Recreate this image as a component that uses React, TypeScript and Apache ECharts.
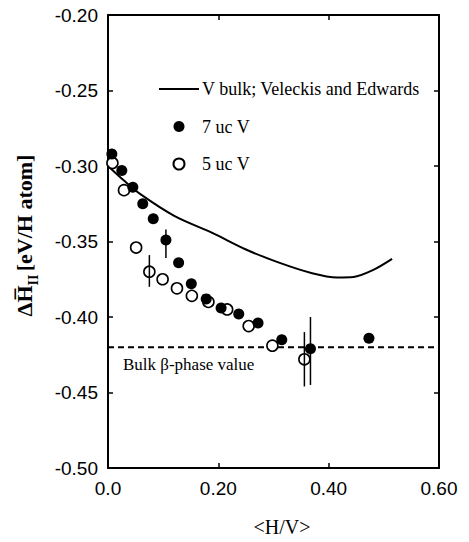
import React, { useEffect, useRef } from "react";
import * as echarts from "echarts";

// 7 uc V (filled circles)
const filled7X = [0.007, 0.025, 0.045, 0.063, 0.082, 0.105, 0.128, 0.151, 0.178, 0.205, 0.237, 0.272, 0.315, 0.367, 0.473];
const filled7Y = [-0.292, -0.303, -0.314, -0.325, -0.335, -0.349, -0.364, -0.378, -0.388, -0.394, -0.398, -0.404, -0.415, -0.421, -0.414];

// 5 uc V (open circles)
const open5X = [0.008, 0.029, 0.051, 0.075, 0.099, 0.125, 0.152, 0.182, 0.216, 0.255, 0.298, 0.356];
const open5Y = [-0.298, -0.316, -0.354, -0.370, -0.375, -0.381, -0.386, -0.390, -0.395, -0.406, -0.419, -0.428];

// V bulk; Veleckis and Edwards (solid curve)
const curveX = [0, 0.03, 0.06, 0.12, 0.19, 0.25, 0.31, 0.37, 0.415, 0.445, 0.48, 0.515];
const curveY = [-0.3, -0.31, -0.319, -0.333, -0.3445, -0.3553, -0.364, -0.371, -0.3738, -0.3735, -0.369, -0.3615];

// Error bars [x, low, high]
const errX = [0.075, 0.105, 0.356, 0.367];
const errLow = [-0.38, -0.361, -0.446, -0.445];
const errHigh = [-0.359, -0.342, -0.41, -0.4];

// Bulk beta-phase reference value
const bulkBetaValue = -0.42;
const bulkLineX = [0, 0.6];

const serif = "'Liberation Serif', 'DejaVu Serif', serif";
const sans = "'Liberation Sans', Arial, sans-serif";

export default function App() {
  const ref = useRef<HTMLDivElement>(null);

  useEffect(() => {
    if (!ref.current) return;
    const chart = echarts.init(ref.current, null, { renderer: "svg" });

    const axisLine = { show: true, onZero: false, lineStyle: { color: "#000", width: 2 } };
    const tick = { show: true, inside: true, length: 5, lineStyle: { color: "#000", width: 1.5 } };

    const option: any = {
      animation: false,
      backgroundColor: "#fff",
      grid: { left: 108, right: 30, top: 15, bottom: 74, containLabel: false },
      legend: {
        orient: "vertical",
        left: 158,
        top: 80,
        padding: 0,
        itemWidth: 40,
        itemHeight: 11,
        itemGap: 19.5,
        data: [
          { name: "V bulk; Veleckis and Edwards", itemStyle: { color: "rgba(0,0,0,0)", borderWidth: 0, opacity: 0 } },
          "7 uc V",
          "5 uc V",
        ],
        textStyle: { fontFamily: serif, fontSize: 18, color: "#000", padding: [0, 0, 0, -2] },
      },
      xAxis: [
        {
          type: "value",
          min: 0,
          max: 0.6,
          interval: 0.2,
          position: "bottom",
          axisLine,
          axisTick: tick,
          splitLine: { show: false },
          axisLabel: {
            margin: 11,
            fontFamily: sans,
            fontSize: 19,
            color: "#000",
            formatter: (v: number) => (Math.abs(v) < 1e-9 ? "0.0" : v.toFixed(2)),
          },
          name: "<H/V>",
          nameLocation: "middle",
          nameGap: 49,
          nameTextStyle: { fontFamily: serif, fontSize: 20, color: "#000", padding: [0, 0, 0, 17] },
        },
        {
          type: "value",
          min: 0,
          max: 0.6,
          interval: 0.2,
          position: "top",
          axisLine,
          axisTick: tick,
          axisLabel: { show: false },
          splitLine: { show: false },
        },
      ],
      yAxis: [
        {
          type: "value",
          min: -0.5,
          max: -0.2,
          interval: 0.05,
          position: "left",
          axisLine,
          axisTick: tick,
          splitLine: { show: false },
          axisLabel: {
            margin: 10,
            fontFamily: sans,
            fontSize: 19,
            color: "#000",
            formatter: (v: number) => v.toFixed(2),
          },
          name: "{b|Δ}{b|H\u0305}{s|II} {b|[eV/H atom]}",
          nameLocation: "middle",
          nameRotate: 90,
          nameGap: 68,
          nameTextStyle: {
            padding: [0, 0, 0, 12],
            rich: {
              b: { fontFamily: serif, fontSize: 22, fontWeight: "bold", color: "#000", lineHeight: 32, verticalAlign: "middle" },
              s: { fontFamily: serif, fontSize: 14, fontWeight: "bold", color: "#000", lineHeight: 32, verticalAlign: "bottom" },
            },
          },
        },
        {
          type: "value",
          min: -0.5,
          max: -0.2,
          interval: 0.05,
          position: "right",
          axisLine,
          axisTick: tick,
          axisLabel: { show: false },
          splitLine: { show: false },
        },
      ],
      series: [
        {
          name: "Bulk beta",
          type: "line",
          data: bulkLineX.map((x) => [x, bulkBetaValue]),
          symbol: "none",
          lineStyle: { color: "#000", width: 2, type: [6, 4] },
          silent: true,
          z: 1,
        },
        {
          name: "V bulk; Veleckis and Edwards",
          type: "line",
          data: curveX.map((x, i) => [x, curveY[i]]),
          symbol: "none",
          smooth: 0.3,
          lineStyle: { color: "#000", width: 2 },
          itemStyle: { color: "#000" },
          z: 2,
        },
        {
          name: "7 uc V",
          type: "scatter",
          data: filled7X.map((x, i) => [x, filled7Y[i]]),
          symbol: "circle",
          symbolSize: 11,
          itemStyle: { color: "#000", opacity: 1 },
          z: 4,
        },
        {
          name: "5 uc V",
          type: "scatter",
          data: open5X.map((x, i) => [x, open5Y[i]]),
          symbol: "circle",
          symbolSize: 11,
          itemStyle: { color: "#fff", borderColor: "#000", borderWidth: 1.6, opacity: 1 },
          z: 3,
        },
        {
          name: "errors",
          type: "custom",
          data: errX.map((x, i) => [x, errLow[i], errHigh[i]]),
          renderItem: (params: any, api: any) => {
            const p1 = api.coord([api.value(0), api.value(1)]);
            const p2 = api.coord([api.value(0), api.value(2)]);
            return {
              type: "line",
              shape: { x1: p1[0], y1: p1[1], x2: p2[0], y2: p2[1] },
              style: { stroke: "#000", lineWidth: 1.5 },
            };
          },
          z: 5,
        },
      ],
      graphic: [
        {
          type: "text",
          left: 123,
          top: 356,
          style: { text: "Bulk β-phase value", fontFamily: serif, fontSize: 17, fill: "#000" },
        },
      ],
    };

    chart.setOption(option);
    return () => chart.dispose();
  }, []);

  return <div ref={ref} style={{ position: "fixed", left: 0, top: 0, width: 469, height: 542 }} />;
}
